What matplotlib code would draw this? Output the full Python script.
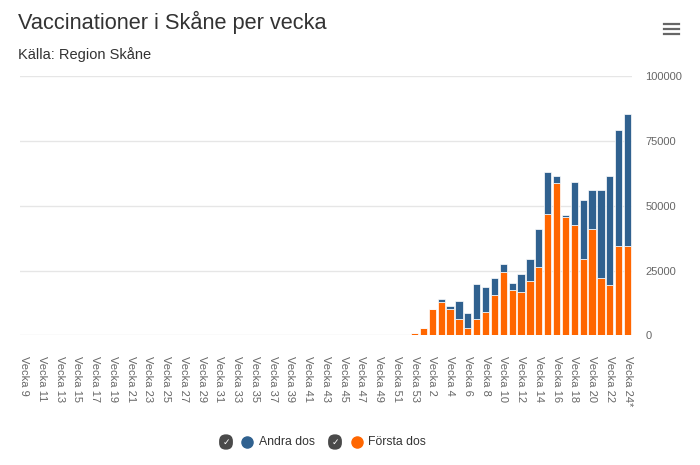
import matplotlib.pyplot as plt
from matplotlib.lines import Line2D
import numpy as np

plt.rcParams['font.family'] = ['Liberation Sans', 'DejaVu Sans']

# Week categories (Vecka 9 2020 .. Vecka 24 2021)
weeks = ['Vecka 9', 'Vecka 10', 'Vecka 11', 'Vecka 12', 'Vecka 13', 'Vecka 14', 'Vecka 15',
         'Vecka 16', 'Vecka 17', 'Vecka 18', 'Vecka 19', 'Vecka 20', 'Vecka 21', 'Vecka 22',
         'Vecka 23', 'Vecka 24', 'Vecka 25', 'Vecka 26', 'Vecka 27', 'Vecka 28', 'Vecka 29',
         'Vecka 30', 'Vecka 31', 'Vecka 32', 'Vecka 33', 'Vecka 34', 'Vecka 35', 'Vecka 36',
         'Vecka 37', 'Vecka 38', 'Vecka 39', 'Vecka 40', 'Vecka 41', 'Vecka 42', 'Vecka 43',
         'Vecka 44', 'Vecka 45', 'Vecka 46', 'Vecka 47', 'Vecka 48', 'Vecka 49', 'Vecka 50',
         'Vecka 51', 'Vecka 52', 'Vecka 53', 'Vecka 1', 'Vecka 2', 'Vecka 3', 'Vecka 4',
         'Vecka 5', 'Vecka 6', 'Vecka 7', 'Vecka 8', 'Vecka 9', 'Vecka 10', 'Vecka 11',
         'Vecka 12', 'Vecka 13', 'Vecka 14', 'Vecka 15', 'Vecka 16', 'Vecka 17', 'Vecka 18',
         'Vecka 19', 'Vecka 20', 'Vecka 21', 'Vecka 22', 'Vecka 23', 'Vecka 24*']

forsta_dos = [0, 0, 0, 0, 0, 0, 0, 0, 0, 0, 0, 0, 0, 0, 0, 0, 0, 0, 0, 0, 0, 0,
              0, 0, 0, 0, 0, 0, 0, 0, 0, 0, 0, 0, 0, 0, 0, 0, 0, 0, 0, 0, 0, 0,
              800, 2700, 10000, 13000, 10000, 6200, 2700, 6200, 9000, 15700, 24400,
              17400, 16900, 20900, 26200, 47000, 58900, 45900, 42700, 29300, 40900,
              22300, 19600, 34400, 34600]

andra_dos = [0, 0, 0, 0, 0, 0, 0, 0, 0, 0, 0, 0, 0, 0, 0, 0, 0, 0, 0, 0, 0, 0,
             0, 0, 0, 0, 0, 0, 0, 0, 0, 0, 0, 0, 0, 0, 0, 0, 0, 0, 0, 0, 0, 0,
             0, 0, 0, 900, 1200, 6900, 6000, 13700, 9700, 6500, 3200,
             2700, 6600, 8400, 14700, 16100, 2700, 700, 16600, 22900, 15200,
             33800, 42000, 44800, 51100]

y_ticks = [0, 25000, 50000, 75000, 100000]

blue = '#30618f'
orange = '#ff6600'
grid_color = '#e6e6e6'
label_color = '#666666'
text_color = '#333333'

W, H = 700, 465
fig = plt.figure(figsize=(7, 4.65), dpi=100, facecolor='white')


def fx(px):
    return px / W


def fy(py):
    return 1 - py / H


ax = fig.add_axes([fx(19.6), fy(335.3), fx(632) - fx(19.6), fy(76.5) - fy(335.3)])

x = np.arange(len(weeks))
ax.bar(x, forsta_dos, 0.82, color=orange, edgecolor='white', linewidth=0.5, zorder=2)
ax.bar(x, andra_dos, 0.82, bottom=forsta_dos, color=blue, edgecolor='white',
       linewidth=0.5, zorder=2)

ax.set_xlim(-0.5, len(weeks) - 0.5)
ax.set_ylim(0, 100000)

# y axis on the right, no ticks
ax.yaxis.tick_right()
ax.set_yticks(y_ticks)
ax.set_yticklabels([str(v) for v in y_ticks])
ax.tick_params(axis='y', length=0, pad=9.5, labelsize=8, labelcolor=label_color)
ax.yaxis.grid(True, color=grid_color, linewidth=1, zorder=0)
ax.set_axisbelow(True)

# every second week gets a label
ax.set_xticks(x[::2])
ax.set_xticklabels(weeks[::2], rotation=270, ha='center', va='top')
ax.tick_params(axis='x', length=0, pad=15, labelsize=8, labelcolor=label_color)

for s in ax.spines.values():
    s.set_visible(False)

# Title and subtitle
fig.text(fx(18), fy(22), 'Vaccinationer i Skåne per vecka', fontsize=15.7,
         color=text_color, ha='left', va='center')
fig.text(fx(18), fy(55), 'Källa: Region Skåne', fontsize=10.5,
         color=text_color, ha='left', va='center')

# Menu icon
for py in [24, 29, 34]:
    fig.add_artist(Line2D([fx(664), fx(679)], [fy(py), fy(py)], color='#666666',
                          linewidth=1.6, transform=fig.transFigure))

# Legend (checkbox + colored dot + label)
legend_y = fy(442)
items = [(226, 247, 259, 'Andra dos', blue), (335, 357, 368, 'Första dos', orange)]
for cb_x, dot_x, txt_x, label, color in items:
    fig.text(fx(cb_x), legend_y, '✓', fontsize=6.5, color='white', ha='center',
             va='center', fontweight='bold', family=['DejaVu Sans'],
             bbox=dict(boxstyle='round,pad=0.35,rounding_size=0.75', fc='#4a4a4a', ec='none'))
    fig.add_artist(Line2D([fx(dot_x)], [legend_y], marker='o', markersize=8,
                          color=color, linestyle='none', transform=fig.transFigure))
    fig.text(fx(txt_x), legend_y, label, fontsize=8.8, color=text_color,
             ha='left', va='center')

plt.savefig('out.png', dpi=100, facecolor='white')
plt.close()
